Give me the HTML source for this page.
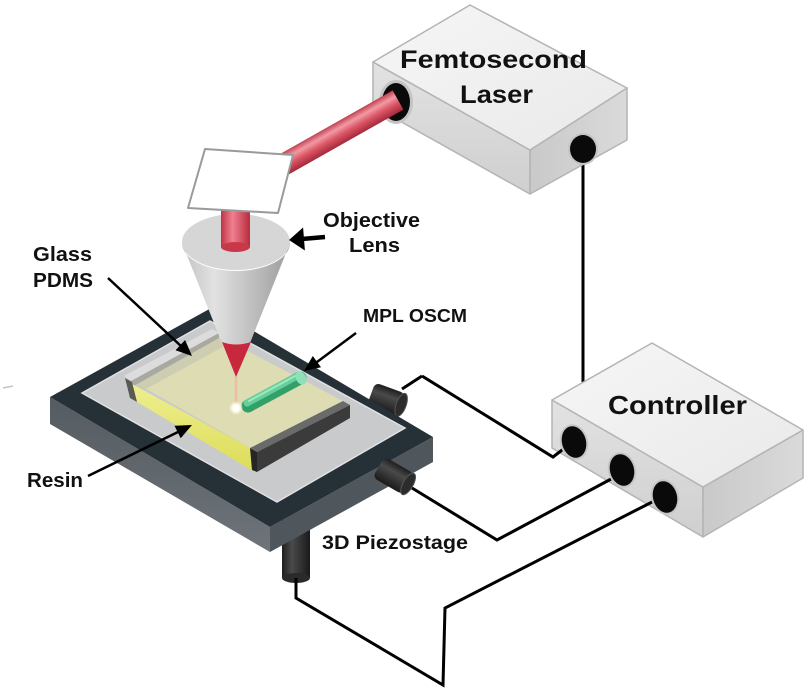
<!DOCTYPE html>
<html><head><meta charset="utf-8"><style>
html,body{margin:0;padding:0;background:#fff;}
svg{display:block;}
text{font-family:"Liberation Sans",Arial,sans-serif;font-weight:bold;fill:#111;}
</style></head><body>
<svg width="809" height="700" viewBox="0 0 809 700" xmlns="http://www.w3.org/2000/svg">
<defs>
<linearGradient id="beamD" gradientUnits="userSpaceOnUse" x1="392.6" y1="90.4" x2="403.4" y2="109.6">
<stop offset="0" stop-color="#c0404f"/><stop offset="0.3" stop-color="#f29aa4"/><stop offset="0.6" stop-color="#dc5666"/><stop offset="1" stop-color="#a52a3a"/></linearGradient>
<linearGradient id="beamV" x1="0" y1="0" x2="1" y2="0">
<stop offset="0" stop-color="#c03445"/><stop offset="0.4" stop-color="#f08090"/><stop offset="1" stop-color="#b82c3c"/></linearGradient>
<linearGradient id="cone" x1="0" y1="0" x2="1" y2="0">
<stop offset="0" stop-color="#c2c2c2"/><stop offset="0.3" stop-color="#e2e2e2"/><stop offset="1" stop-color="#9c9c9c"/></linearGradient>
<linearGradient id="boxTop" x1="0" y1="0" x2="1" y2="1">
<stop offset="0" stop-color="#f6f6f6"/><stop offset="1" stop-color="#e9e9e9"/></linearGradient>
<linearGradient id="boxL" x1="0" y1="0" x2="0" y2="1">
<stop offset="0" stop-color="#e2e2e2"/><stop offset="1" stop-color="#cfcfcf"/></linearGradient>
<linearGradient id="boxR" x1="0" y1="0" x2="1" y2="0">
<stop offset="0" stop-color="#c9c9c9"/><stop offset="1" stop-color="#dadada"/></linearGradient>
<linearGradient id="frameL" x1="0" y1="0" x2="0" y2="1">
<stop offset="0" stop-color="#545b61"/><stop offset="1" stop-color="#6e7479"/></linearGradient>
<linearGradient id="yel" x1="0" y1="0" x2="0" y2="1">
<stop offset="0" stop-color="#eeee90"/><stop offset="1" stop-color="#dcdd58"/></linearGradient>
<linearGradient id="knobV" x1="0" y1="0" x2="1" y2="0">
<stop offset="0" stop-color="#1e1e1e"/><stop offset="0.35" stop-color="#4a4a4a"/><stop offset="1" stop-color="#1a1a1a"/></linearGradient>
<linearGradient id="knobH" x1="0" y1="0" x2="0" y2="1">
<stop offset="0" stop-color="#1e1e1e"/><stop offset="0.35" stop-color="#4a4a4a"/><stop offset="1" stop-color="#1a1a1a"/></linearGradient>
<radialGradient id="glow"><stop offset="0" stop-color="#fff"/><stop offset="0.5" stop-color="#fffbe8"/><stop offset="1" stop-color="#fff" stop-opacity="0"/></radialGradient>
</defs>

<rect width="809" height="700" fill="#fff"/>
<line x1="3" y1="388" x2="13" y2="386" stroke="#c4c4c4" stroke-width="1.5"/>

<!-- wire laser to controller -->
<line x1="583" y1="155" x2="583" y2="382" stroke="#000" stroke-width="3"/>

<!-- Laser box -->
<g stroke="#b4b4b4" stroke-width="1.5" stroke-linejoin="round">
<polygon points="373,62 530,150 530,194 373,106" fill="url(#boxL)"/>
<polygon points="530,150 627,88 627,140 530,194" fill="url(#boxR)"/>
<polygon points="373,62 470,5 627,88 530,150" fill="url(#boxTop)"/>
</g>
<ellipse cx="396" cy="102" rx="17" ry="22" fill="#c4c4c4"/>
<ellipse cx="396" cy="102" rx="14" ry="19" fill="#0a0a0a"/>
<ellipse cx="583" cy="149" rx="15" ry="16" fill="#c4c4c4"/>
<ellipse cx="583" cy="149" rx="13" ry="14" fill="#0a0a0a"/>
<text x="400" y="68" font-size="25" textLength="187" lengthAdjust="spacingAndGlyphs">Femtosecond</text>
<text x="460" y="103" font-size="25" textLength="73" lengthAdjust="spacingAndGlyphs">Laser</text>

<!-- Knobs behind frame -->
<g transform="translate(388,400) rotate(20)">
<rect x="-18" y="-12" width="32" height="24" rx="5" fill="url(#knobH)"/>
<ellipse cx="14" cy="0" rx="5" ry="12" fill="#2c2c2c" stroke="#555" stroke-width="1"/>
</g>
<line x1="402" y1="389" x2="422" y2="376" stroke="#000" stroke-width="3"/>
<rect x="282" y="520" width="28" height="58" fill="url(#knobV)"/>
<ellipse cx="296" cy="578" rx="14" ry="5" fill="#2a2a2a"/>

<!-- Stage frame -->
<polygon points="50,397 270,527 270,552 50,424" fill="url(#frameL)"/>
<polygon points="270,527 433,437 433,462 270,552" fill="#50575c"/>
<polygon points="50,397 213,307 433,437 270,527" fill="#263037"/>
<polygon points="82,393 210,321 405,428 277,502" fill="#c8cacc" stroke="#dfe1e3" stroke-width="1.5"/>

<!-- knob 2 on right face -->
<g transform="translate(396,477) rotate(30)">
<rect x="-20" y="-12" width="34" height="24" rx="5" fill="url(#knobH)"/>
<ellipse cx="14" cy="0" rx="5" ry="12" fill="#2c2c2c" stroke="#555" stroke-width="1"/>
</g>

<!-- Slab -->
<polygon points="127,378 213,333 345,402 252,449" fill="#dddcb2"/>
<polygon points="130,382 216,336 230,343 144,390" fill="#cbcbb2" opacity="0.95"/>
<polygon points="124,376 212,329 219,333 131,381" fill="#dcdcdc"/>
<polygon points="131,381 219,333 219,338 132,387" fill="#a9a9a2"/>
<polygon points="132,384 252,449 253,471 137,402" fill="url(#yel)"/>
<polygon points="125,378 132,382 137,402 130,398" fill="#5a5a55"/>
<polygon points="250,448 343,401 350,405 257,452" fill="#6a6a6a"/>
<polygon points="257,452 350,405 350,418 257,472" fill="#3b3b3b"/>
<polygon points="250,448 257,452 257,472 252,470" fill="#262626"/>

<!-- green rod -->
<line x1="248" y1="406" x2="300" y2="378" stroke="#33a06a" stroke-width="13" stroke-linecap="round"/>
<line x1="247" y1="403" x2="299" y2="375" stroke="#66d09a" stroke-width="7" stroke-linecap="round"/>
<line x1="249" y1="401" x2="297" y2="375" stroke="#9fe8c2" stroke-width="2" stroke-linecap="round"/>
<ellipse cx="301" cy="378" rx="5" ry="7" transform="rotate(-28 301 378)" fill="#8ee0b6"/>

<!-- lens cone -->
<path d="M182,243 L236,378 L290,243 A54,28 0 0 1 182,243 Z" fill="url(#cone)"/>
<ellipse cx="236" cy="242" rx="54" ry="28" fill="#d6d6d6"/>
<path d="M222,342 Q236,347 251,342 L236,377 Z" fill="#c8283c"/>
<line x1="236" y1="377" x2="236" y2="404" stroke="#f0b8a0" stroke-width="2.5" opacity="0.8"/>
<circle cx="236" cy="408" r="7" fill="url(#glow)"/>
<circle cx="236" cy="408" r="3" fill="#fff"/>

<!-- vertical beam -->
<rect x="221" y="200" width="29" height="47" fill="url(#beamV)"/>
<ellipse cx="235.5" cy="247" rx="14.5" ry="5" fill="#c83848"/>

<!-- diagonal beam -->
<polygon points="403.4,109.6 392.6,90.4 277.6,155.4 288.4,174.6" fill="url(#beamD)"/>

<!-- mirror -->
<polygon points="205,149 293,155 278,213 188,208" fill="#fff" stroke="#9a9a9a" stroke-width="2" stroke-linejoin="round"/>

<!-- Controller -->
<g stroke="#b4b4b4" stroke-width="1.5" stroke-linejoin="round">
<polygon points="552,400 703,487 703,537 552,448" fill="url(#boxL)"/>
<polygon points="703,487 803,430 803,478 703,537" fill="url(#boxR)"/>
<polygon points="552,400 652,343 803,430 703,487" fill="url(#boxTop)"/>
</g>
<text x="608" y="414" font-size="26" textLength="139" lengthAdjust="spacingAndGlyphs">Controller</text>

<!-- wires to controller -->
<g fill="none" stroke="#000" stroke-width="3" stroke-linejoin="miter">
<polyline points="422,376 553,457 566,447"/>
<polyline points="412,488 497,540 613,478"/>
<polyline points="296,578 296,598 443,685 445,608 656,500"/>
</g>
<g>
<ellipse cx="574" cy="442" rx="14" ry="18" transform="rotate(-15 574 442)" fill="#c6c6c6"/>
<ellipse cx="574" cy="442" rx="12" ry="16" transform="rotate(-15 574 442)" fill="#0a0a0a"/>
<ellipse cx="622" cy="470" rx="14" ry="18" transform="rotate(-15 622 470)" fill="#c6c6c6"/>
<ellipse cx="622" cy="470" rx="12" ry="16" transform="rotate(-15 622 470)" fill="#0a0a0a"/>
<ellipse cx="665" cy="497" rx="14" ry="18" transform="rotate(-15 665 497)" fill="#c6c6c6"/>
<ellipse cx="665" cy="497" rx="12" ry="16" transform="rotate(-15 665 497)" fill="#0a0a0a"/>
</g>

<!-- arrows -->
<line x1="325" y1="237" x2="302" y2="239" stroke="#000" stroke-width="4.5"/>
<polygon points="289,240 304.9,250.5 303.1,227.5" fill="#000"/>
<line x1="108" y1="278" x2="182" y2="347" stroke="#000" stroke-width="2.5"/>
<polygon points="192,356 175.5,350.2 185.1,340" fill="#000"/>
<line x1="88" y1="476" x2="178" y2="432" stroke="#000" stroke-width="2.5"/>
<polygon points="192,425 180.7,438.3 174.5,425.7" fill="#000"/>
<line x1="356" y1="333" x2="317" y2="362" stroke="#000" stroke-width="2.5"/>
<polygon points="304,371 321,367.2 312.8,356" fill="#000"/>

<!-- labels -->
<text x="323" y="227" font-size="20" textLength="97" lengthAdjust="spacingAndGlyphs">Objective</text>
<text x="349" y="252" font-size="20" textLength="51" lengthAdjust="spacingAndGlyphs">Lens</text>
<text x="33" y="261" font-size="20" textLength="59" lengthAdjust="spacingAndGlyphs">Glass</text>
<text x="33" y="287" font-size="20" textLength="60" lengthAdjust="spacingAndGlyphs">PDMS</text>
<text x="363" y="322" font-size="18" textLength="104" lengthAdjust="spacingAndGlyphs">MPL OSCM</text>
<text x="27" y="487" font-size="20" textLength="56" lengthAdjust="spacingAndGlyphs">Resin</text>
<text x="322" y="549" font-size="19" textLength="146" lengthAdjust="spacingAndGlyphs">3D Piezostage</text>
</svg>
</body></html>
